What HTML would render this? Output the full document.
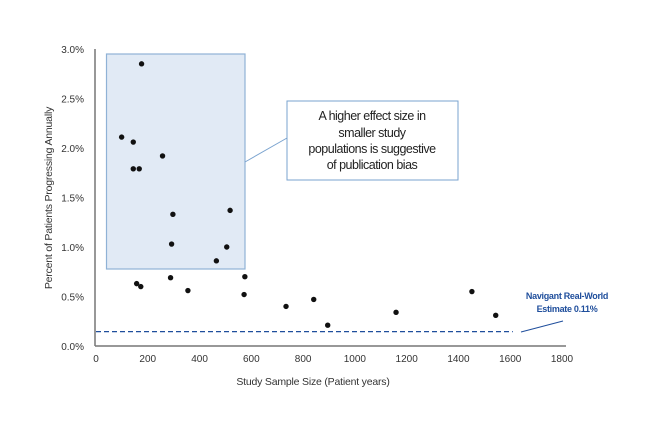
<!DOCTYPE html>
<html><head><meta charset="utf-8"><style>
body{margin:0;background:#fff;}
svg text{font-family:"Liberation Sans",sans-serif;}
</style></head><body>
<svg width="650" height="432" viewBox="0 0 650 432">
<g id="chart"></g>
</svg>
<script>
const xTicks=[0,200,400,600,800,1000,1200,1400,1600,1800];
const yTicks=[0,0.5,1.0,1.5,2.0,2.5,3.0];
const sampleSizes=[176,99,144,144,167,257,297,292,518,505,465,157,173,288,355,575,572,734,841,895,1159,1452,1544];
const progressionRates=[2.85,2.11,2.06,1.79,1.79,1.92,1.33,1.03,1.37,1.00,0.86,0.63,0.60,0.69,0.56,0.70,0.52,0.40,0.47,0.21,0.34,0.55,0.31];
const estimateValue=[0.145];
const estimateRange=[0,1610];
const X0=96,X1=562,Y0=346,Y1=49;
const sx=v=>X0+(v-0)/1800*(X1-X0);
const sy=v=>Y0-(v/3.0)*(Y0-Y1);
const NS='http://www.w3.org/2000/svg';
const g=document.getElementById('chart');
function mk(t,a,p){const e=document.createElementNS(NS,t);for(const k in a)e.setAttribute(k,a[k]);(p||g).appendChild(e);return e;}
let r=mk('rect',{x:106.5,y:54,width:138.5,height:215,fill:'#e1eaf5',stroke:'#8fb2d6','stroke-width':1.2});


let ya=mk('line',{x1:X0-1,y1:Y1,x2:X0-1,y2:Y0,stroke:'#777','stroke-width':1.5});


let xa=mk('line',{x1:X0-1,y1:Y0,x2:566,y2:Y0,stroke:'#777','stroke-width':1.5});


xTicks.forEach(v=>{const t=mk('text',{x:sx(v),y:362,'text-anchor':'middle','font-size':10,fill:'#333'});t.textContent=v;

});
yTicks.forEach(v=>{const t=mk('text',{x:84,y:sy(v)+4,'text-anchor':'end','font-size':10,fill:'#333'});t.textContent=v.toFixed(1)+'%';

});
let el=mk('line',{x1:sx(estimateRange[0]),y1:sy(estimateValue[0]),x2:sx(estimateRange[1]),y2:sy(estimateValue[0]),stroke:'#1f4e9c','stroke-width':1.3,'stroke-dasharray':'5,3'});


sampleSizes.forEach((v,i)=>{const c=mk('circle',{cx:sx(v),cy:sy(progressionRates[i]),r:2.7,fill:'#111'});

});
</script>
<svg width="650" height="432" style="position:absolute;left:0;top:0">
<line x1="245" y1="162" x2="287" y2="138" stroke="#7aa3cf" stroke-width="1"/>
<rect x="287" y="101" width="171" height="79" fill="#fff" stroke="#7aa3cf" stroke-width="1"/>
<g font-size="12.5" fill="#222" text-anchor="middle" font-family="Liberation Sans, sans-serif">
<text x="372" y="120" letter-spacing="-0.5">A higher effect size in</text>
<text x="372" y="137" letter-spacing="-0.5">smaller study</text>
<text x="372" y="153" letter-spacing="-0.5">populations is suggestive</text>
<text x="372" y="169" letter-spacing="-0.5">of publication bias</text>
</g>
<g font-size="9" fill="#1f4e9c" font-weight="bold" text-anchor="middle" font-family="Liberation Sans, sans-serif">
<text x="567" y="299" letter-spacing="-0.3">Navigant Real-World</text>
<text x="567" y="312" letter-spacing="-0.3">Estimate 0.11%</text>
</g>
<line x1="521" y1="332" x2="563" y2="321" stroke="#1f4e9c" stroke-width="1"/>
<text x="313" y="385" text-anchor="middle" font-size="10.5" fill="#333" font-family="Liberation Sans, sans-serif" letter-spacing="-0.2">Study Sample Size (Patient years)</text>
<text transform="translate(52,198) rotate(-90)" text-anchor="middle" font-size="10.5" fill="#333" font-family="Liberation Sans, sans-serif" letter-spacing="-0.2">Percent of Patients Progressing Annually</text>
</svg>
</body></html>
